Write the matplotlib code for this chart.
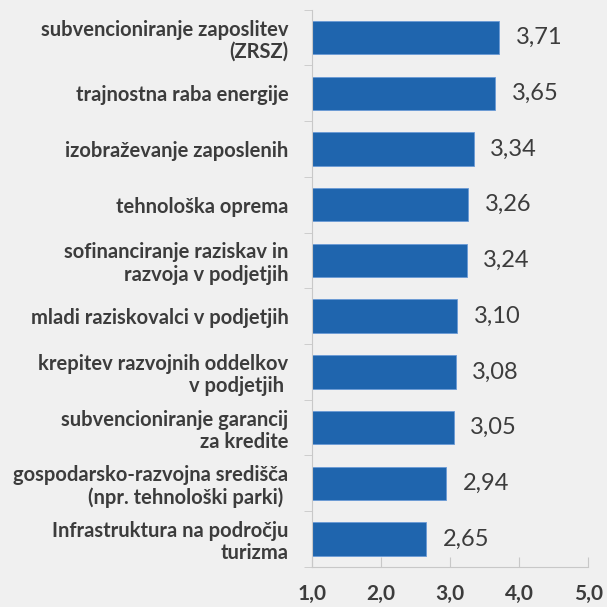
import numpy as np
import matplotlib.pyplot as plt
from matplotlib.ticker import FixedLocator

categories = [
    "subvencioniranje zaposlitev\n(ZRSZ)",
    "trajnostna raba energije",
    "izobraževanje zaposlenih",
    "tehnološka oprema",
    "sofinanciranje raziskav in\nrazvoja v podjetjih",
    "mladi raziskovalci v podjetjih",
    "krepitev razvojnih oddelkov\nv podjetjih ",
    "subvencioniranje garancij\nza kredite",
    "gospodarsko-razvojna središča\n(npr. tehnološki parki) ",
    "Infrastruktura na področju\nturizma",
]
values = [3.71, 3.65, 3.34, 3.26, 3.24, 3.10, 3.08, 3.05, 2.94, 2.65]
x_ticks = [1.0, 2.0, 3.0, 4.0, 5.0]
x_tick_labels = ["1,0", "2,0", "3,0", "4,0", "5,0"]

bg = "#f0f0f0"
bar_color = "#1f65ae"
text_color = "#3c3c3c"
plt.rcParams['font.family'] = ['Lato', 'DejaVu Sans']

fig = plt.figure(figsize=(6.07, 6.07), dpi=100, facecolor=bg)
ax = fig.add_axes([0.514, 0.066, 0.455, 0.918])
ax.set_facecolor(bg)

base = 1.0
y = np.arange(len(categories))[::-1]
ax.barh(y, [v - base for v in values], left=base, height=0.6,
        color=bar_color, edgecolor="#6a9ad6", linewidth=0.6)

for yi, v in zip(y, values):
    ax.text(v + 0.24, yi, f"{v:.2f}".replace(".", ","), va="center", ha="left",
            fontsize=17, color=text_color)

ax.set_xlim(1, 5)
ax.set_ylim(-0.5, len(categories) - 0.5)
ax.set_xticks(x_ticks)
ax.set_xticklabels(x_tick_labels, fontsize=15, fontweight="bold", color=text_color)
ax.set_yticks(y)
ax.set_yticklabels(categories, fontsize=14.5, fontweight="bold", color=text_color,
                   ha="right", linespacing=1.15)
ax.yaxis.set_minor_locator(FixedLocator(np.arange(-0.5, len(categories), 1)))
ax.tick_params(axis="y", which="major", length=0, pad=17)
ax.tick_params(axis="y", which="minor", length=6, color="#c8c8c8", direction="out")
ax.tick_params(axis="x", length=7, color="#c8c8c8", direction="in", pad=12)

for side in ["top", "right"]:
    ax.spines[side].set_visible(False)
for side in ["left", "bottom"]:
    ax.spines[side].set_color("#c8c8c8")

fig.savefig("out.png", dpi=100, facecolor=bg)
